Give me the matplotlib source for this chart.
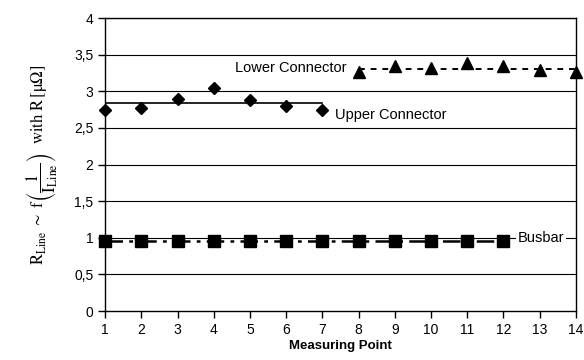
import numpy as np
import matplotlib.pyplot as plt

plt.rcParams['font.family'] = ['Liberation Sans', 'DejaVu Sans']
plt.rcParams['mathtext.fontset'] = 'stix'

# measured values
upper_x = [1, 2, 3, 4, 5, 6, 7]
upper_y = [2.74, 2.77, 2.90, 3.04, 2.88, 2.80, 2.74]
upper_mean = 2.84

lower_x = [8, 9, 10, 11, 12, 13, 14]
lower_y = [3.26, 3.35, 3.32, 3.39, 3.34, 3.29, 3.26]
lower_mean = 3.31

busbar_x = [1, 2, 3, 4, 5, 6, 7, 8, 9, 10, 11, 12]
busbar_y = [0.95] * 12
busbar_mean = 0.95

yticks = [0, 0.5, 1, 1.5, 2, 2.5, 3, 3.5, 4]
ylabels = ['0', '0,5', '1', '1,5', '2', '2,5', '3', '3,5', '4']

fig = plt.figure(figsize=(5.84, 3.6), dpi=100)
ax = fig.add_axes([0.18, 0.136, 0.806, 0.814])

for v in yticks[1:]:
    ax.axhline(v, color='black', lw=0.8, zorder=1)

# mean lines
ax.plot([upper_x[0], upper_x[-1]], [upper_mean] * 2, color='black', lw=1.2, zorder=2)
ax.plot([lower_x[0], lower_x[-1]], [lower_mean] * 2, color='black', lw=1.4,
        linestyle=(0, (3, 3)), zorder=2)
ax.plot([busbar_x[0], busbar_x[-1]], [busbar_mean] * 2, color='black', lw=1.8,
        linestyle=(0, (7, 2.5, 1.5, 2.5)), zorder=2)

# data points
ax.plot(upper_x, upper_y, 'D', color='black', ms=6, clip_on=False, zorder=3)
ax.plot(lower_x, lower_y, '^', color='black', ms=8, clip_on=False, zorder=3)
ax.plot(busbar_x, busbar_y, 's', color='black', ms=9, clip_on=False, zorder=3)

ax.text(7.35, 2.68, 'Upper Connector', fontsize=10.5, va='center', ha='left')
ax.text(4.6, 3.32, 'Lower Connector', fontsize=10.5, va='center', ha='left')
ax.text(12.4, 1.0, 'Busbar', fontsize=10.5, va='center', ha='left',
        bbox=dict(facecolor='white', edgecolor='none', pad=1.5), zorder=4)

ax.set_xlim(1, 14)
ax.set_ylim(0, 4)
ax.set_xticks(range(1, 15))
ax.set_yticks(yticks)
ax.set_yticklabels(ylabels)
ax.tick_params(direction='out', length=5, width=1, labelsize=10, colors='black')
for s in ax.spines.values():
    s.set_linewidth(1)
    s.set_color('black')

ax.set_xlabel('Measuring Point', fontsize=9.5, fontweight='bold', labelpad=2)
ax.set_ylabel(r'$\mathrm{R_{Line}}\ \sim\ \mathrm{f}\left(\dfrac{1}{\mathrm{I_{Line}}}\right)\ \ \mathrm{with\ R\,[\mu\Omega]}$',
              fontsize=12, labelpad=10)

fig.savefig('out.png', dpi=100)
